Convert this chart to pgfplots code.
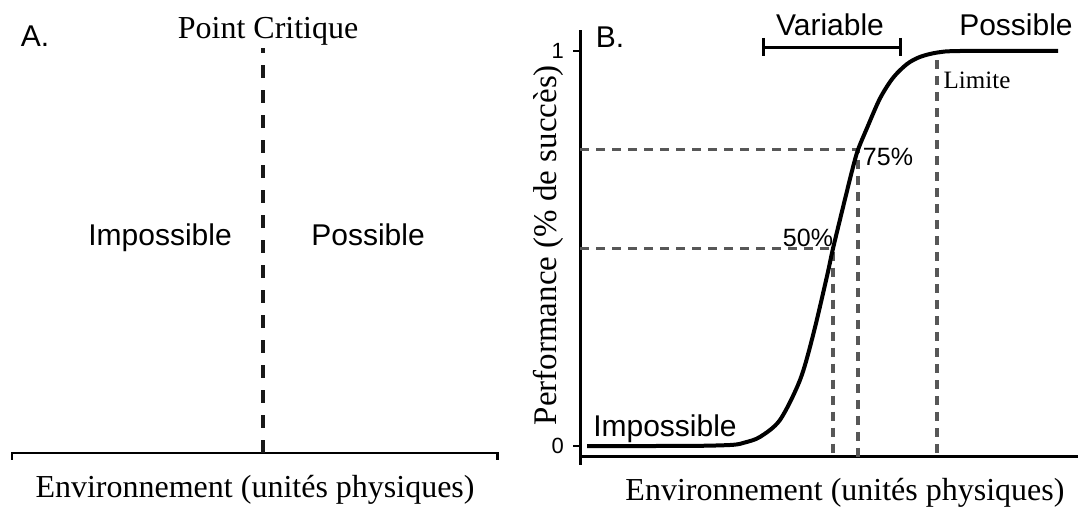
\documentclass[border=0pt]{standalone}
\usepackage{pgfplots}
\pgfplotsset{compat=1.18}
\usepackage{fontspec}
\setmainfont{Liberation Serif}
\setsansfont{Liberation Sans}
\newcommand{\serifbig}{\rmfamily\fontsize{16}{19}\selectfont}
\newcommand{\sansbig}{\sffamily\fontsize{15}{18}\selectfont}
\newcommand{\sanssmall}{\sffamily\fontsize{12.5}{15}\selectfont}
\newcommand{\serifsmall}{\rmfamily\fontsize{12.5}{15}\selectfont}
\definecolor{dashgray}{HTML}{575757}
\pgfplotstableread{
x y
7 0
70 0
120 0.0005
153 0.003
165 0.009
180 0.023
200 0.066
220 0.167
233 0.28
247 0.43
253 0.5
265 0.625
273 0.706
278 0.75
287 0.805
300 0.88
313 0.932
327 0.967
340 0.985
357 0.996
380 1.0
478 1.0
}\curve
\begin{document}
\begin{tikzpicture}
\useasboundingbox (0,0) rectangle (539pt,253.5pt);
% Panel A
\begin{axis}[
  at={(6pt,27pt)}, anchor=south west,
  scale only axis, width=242.5pt, height=202.5pt,
  xmin=0, xmax=485, ymin=0, ymax=405,
  hide axis, clip=false,
]
\addplot[black, line width=1.4pt, line join=miter] coordinates {(0,-7) (0,0) (485,0) (485,-7)};
\addplot[black!90, line width=1.6pt, dash pattern=on 6.5pt off 6pt] coordinates {(251,0) (251,405)};
\node[font=\serifbig, anchor=base] at (axis cs:256,414) {Point Critique};
\node[font=\sansbig, anchor=base] at (axis cs:23,406) {A.};
\node[font=\sansbig, anchor=base] at (axis cs:148,207) {Impossible};
\node[font=\sansbig, anchor=base] at (axis cs:356,207) {Possible};
\node[font=\serifbig, anchor=base] at (axis cs:243,-45) {Environnement (unités physiques)};
\end{axis}
% Panel B
\begin{axis}[
  at={(290pt,25pt)}, anchor=south west,
  scale only axis, width=249pt, height=213.5pt,
  xmin=0, xmax=498, ymin=-0.0278, ymax=1.0532,
  axis lines=left, axis line style={-, line width=1.5pt},
  clip=false,
  xtick=\empty, ytick={0,1},
  ytick pos=left, tick align=outside, major tick length=3.5pt,
  tick style={black, line width=1.2pt},
  yticklabel style={font=\sffamily\fontsize{11}{13}\selectfont, xshift=-1pt},
  /pgf/number format/assume math mode=true,
  ylabel={Performance (\% de succès)},
  ylabel style={at={(axis description cs:-0.064,0.496)}, anchor=center, font=\rmfamily\fontsize{16.5}{19}\selectfont},
]
\addplot[black, line width=1.5pt] coordinates {(0,-0.0278) (0,-0.048)};
\addplot[dashgray, line width=1.7pt, dash pattern=on 4.5pt off 3.5pt] coordinates {(0,0.5) (253,0.5) (253,-0.0278)};
\addplot[dashgray, line width=1.7pt, dash pattern=on 4.5pt off 3.5pt] coordinates {(0,0.75) (278,0.75) (278,-0.0278)};
\addplot[dashgray, line width=1.7pt, dash pattern=on 4.5pt off 3.5pt] coordinates {(357,0.977) (357,-0.0278)};
\addplot[black, line width=2pt, smooth, tension=0.5] table[x=x,y=y] {\curve};
\addplot[black, line width=1.5pt] coordinates {(183,1.033) (183,0.987)};
\addplot[black, line width=1.5pt] coordinates {(183,1.010) (320,1.010)};
\addplot[black, line width=1.5pt] coordinates {(320,1.033) (320,0.987)};
\node[font=\sansbig, anchor=base] at (axis cs:250,1.040) {Variable};
\node[font=\sansbig, anchor=base] at (axis cs:436,1.040) {Possible};
\node[font=\serifsmall, anchor=base] at (axis cs:397,0.906) {Limite};
\node[font=\sansbig, anchor=base] at (axis cs:30,1.010) {B.};
\node[font=\sansbig, anchor=base] at (axis cs:85,0.023) {Impossible};
\node[font=\sanssmall, anchor=base] at (axis cs:228,0.506) {50\%};
\node[font=\sanssmall, anchor=base] at (axis cs:308,0.711) {75\%};
\node[font=\serifbig, anchor=base] at (axis cs:265,-0.137) {Environnement (unités physiques)};
\end{axis}
\end{tikzpicture}
\end{document}
